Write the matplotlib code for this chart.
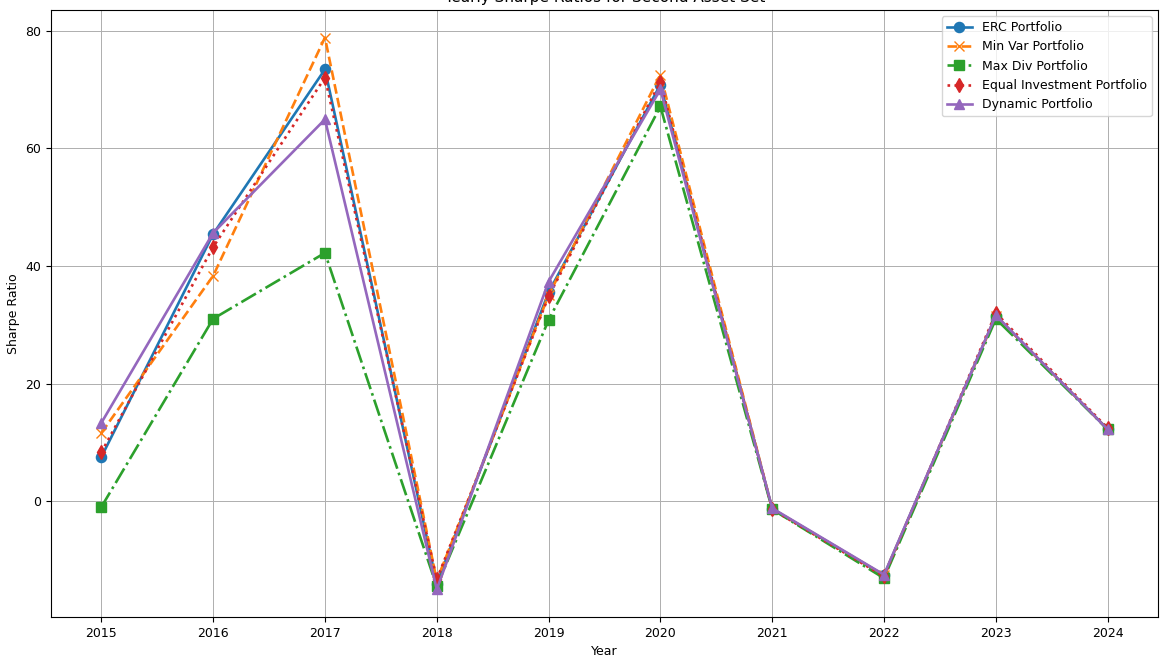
import numpy as np
import matplotlib.pyplot as plt

# --- Data ---
years = [2015, 2016, 2017, 2018, 2019, 2020, 2021, 2022, 2023, 2024]
erc = [7.5, 45.4, 73.4, -14.0, 35.5, 70.8, -1.3, -12.6, 31.5, 12.2]
min_var = [11.6, 38.3, 78.8, -13.5, 35.0, 72.5, -1.3, -12.6, 31.5, 12.2]
max_div = [-1.0, 31.0, 42.2, -14.5, 30.8, 67.1, -1.4, -13.1, 31.0, 12.2]
equal_inv = [8.3, 43.2, 72.0, -13.3, 34.8, 71.3, -1.4, -12.8, 32.0, 12.4]
dynamic = [13.3, 45.6, 64.9, -15.0, 37.3, 70.0, -1.2, -12.5, 31.6, 12.2]

series = [
    ("ERC Portfolio", erc, "o", "-"),
    ("Min Var Portfolio", min_var, "x", "--"),
    ("Max Div Portfolio", max_div, "s", "-."),
    ("Equal Investment Portfolio", equal_inv, "d", ":"),
    ("Dynamic Portfolio", dynamic, "^", "-"),
]

# reference looks like a ~0.9 downscale of a default matplotlib figure
plt.rcParams['font.size'] = 9
plt.rcParams['grid.linewidth'] = 0.72
plt.rcParams['axes.linewidth'] = 0.8

fig = plt.figure(figsize=(11.61, 6.57), dpi=100)
ax = fig.add_axes([51 / 1161, 1 - 617 / 657, 1107 / 1161, 607 / 657])

for label, vals, marker, ls in series:
    ax.plot(years, vals, marker=marker, linestyle=ls, linewidth=1.9,
            markersize=7.3, label=label)

ax.set_title("Yearly Sharpe Ratios for Second Asset Set", fontsize=11)
ax.set_xlabel("Year")
ax.set_ylabel("Sharpe Ratio")
ax.set_xticks(years)
ax.grid(True)
ax.legend(loc="upper right")

fig.savefig("out.png", dpi=100)
